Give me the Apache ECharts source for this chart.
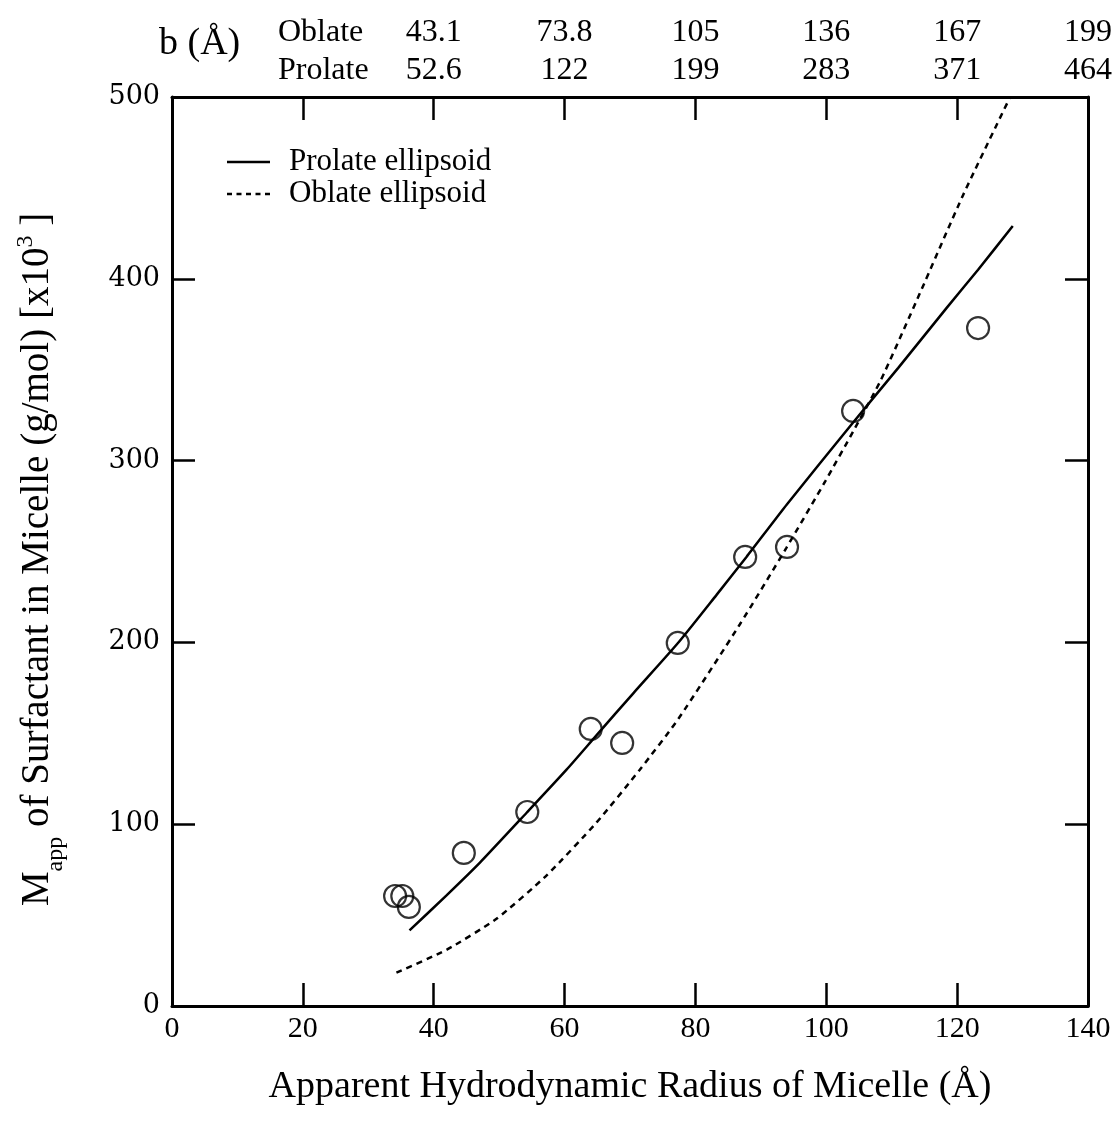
<!DOCTYPE html>
<html>
<head>
<meta charset="utf-8">
<script src="https://cdn.jsdelivr.net/npm/echarts@6/dist/echarts.min.js"></script>
<style>
html,body{margin:0;padding:0;background:#fff;}
#chart{width:1116px;height:1128px;}
</style>
</head>
<body>
<div id="chart"></div>
<script>
// Measured data points (apparent hydrodynamic radius Å, M_app x10^3 g/mol)
const pointsX = [34.1, 35.2, 36.2, 44.6, 54.3, 64.0, 68.8, 77.3, 87.6, 94.0, 104.1, 123.2];
const pointsY = [60.5, 60.5, 54.5, 84.2, 106.7, 152.4, 144.7, 199.7, 247.0, 252.5, 327.3, 372.9];

// Prolate ellipsoid model curve
const prolateX = [36.3, 42.0, 47.1, 54.2, 60.3, 64.9, 70.5, 77.3, 83.2, 87.8, 94.0, 104.1, 111.0, 118.4, 123.2, 128.5];
const prolateY = [41.6, 61.0, 79.0, 106.3, 130.0, 149.0, 172.0, 199.5, 226.0, 247.0, 276.0, 321.0, 351.0, 384.0, 405.0, 429.0];

// Oblate ellipsoid model curve
const oblateX = [34.3, 42.0, 49.6, 57.3, 64.9, 71.5, 77.4, 86.8, 93.9, 99.9, 104.1, 108.3, 114.3, 120.9, 128.1];
const oblateY = [18.3, 31.0, 48.0, 72.0, 101.0, 130.0, 158.0, 210.0, 252.0, 289.0, 316.0, 344.0, 392.0, 446.0, 500.0];

// Top axis labels: semi-axis b (Å)
const topTickX = [40, 60, 80, 100, 120, 140];
const oblateB = ['43.1', '73.8', '105', '136', '167', '199'];
const prolateB = ['52.6', '122', '199', '283', '371', '464'];

const xTitle = 'Apparent Hydrodynamic Radius of Micelle (Å)';
const serif = '"Liberation Serif", "Times New Roman", serif';

const zip = (xs, ys) => xs.map((x, i) => [x, ys[i]]);

const chart = echarts.init(document.getElementById('chart'), null, {renderer: 'canvas'});

const axisLine = {show: true, onZero: false, lineStyle: {color: '#000', width: 3}};
const axisTick = {show: true, inside: true, length: 23, lineStyle: {color: '#000', width: 2.5}};

const solidIcon = 'path://M0,0H44V2.5H0Z';
const dashIcon = 'path://M0,0H5V2.5H0Z M9.5,0H14.5V2.5H9.5Z M19,0H24V2.5H19Z M28.5,0H33.5V2.5H28.5Z M38,0H43V2.5H38Z';

chart.setOption({
  backgroundColor: '#fff',
  animation: false,
  grid: {left: 172, top: 97, width: 916, height: 909},
  legend: {
    data: [
      {name: 'Prolate ellipsoid', icon: solidIcon},
      {name: 'Oblate ellipsoid', icon: dashIcon}
    ],
    orient: 'vertical',
    left: 222, top: 141,
    itemWidth: 43, itemHeight: 2.5, itemGap: 0,
    itemStyle: {color: '#000', borderWidth: 0},
    textStyle: {fontFamily: serif, fontSize: 31, color: '#000', lineHeight: 32, padding: [0, 0, 0, 14]}
  },
  xAxis: [{
    type: 'value', min: 0, max: 140, interval: 20, position: 'bottom',
    axisLine, axisTick, splitLine: {show: false},
    axisLabel: {fontFamily: serif, fontSize: 30, color: '#000', margin: 8, showMinLabel: true, showMaxLabel: true},
    name: xTitle, nameLocation: 'middle', nameGap: 62,
    nameTextStyle: {fontFamily: serif, fontSize: 38, color: '#000'}
  }, {
    type: 'value', min: 0, max: 140, interval: 20, position: 'top',
    axisLine, axisTick, splitLine: {show: false},
    axisLabel: {
      fontFamily: serif, fontSize: 32, color: '#000', margin: 7, lineHeight: 38,
      showMinLabel: true, showMaxLabel: true,
      formatter: v => {
        const i = topTickX.indexOf(v);
        return i < 0 ? '' : oblateB[i] + '\n' + prolateB[i];
      }
    }
  }],
  yAxis: [{
    type: 'value', min: 0, max: 500, interval: 100, position: 'left',
    axisLine, axisTick, splitLine: {show: false},
    axisLabel: {fontFamily: '"DejaVu Serif", serif', fontSize: 27, color: '#000', margin: 12},
    name: 'M{sub|app} of Surfactant in Micelle (g/mol) [x10{sup|3} ]',
    nameLocation: 'middle', nameGap: 110, nameRotate: 90,
    nameTextStyle: {
      fontFamily: serif, fontSize: 39, color: '#000', lineHeight: 48, padding: [0, 16, 0, 0],
      rich: {
        sub: {fontFamily: serif, fontSize: 24, color: '#000', verticalAlign: 'bottom', lineHeight: 48, padding: [0, 0, -6, 0]},
        sup: {fontFamily: serif, fontSize: 24, color: '#000', verticalAlign: 'top', lineHeight: 48}
      }
    }
  }, {
    type: 'value', min: 0, max: 500, interval: 100, position: 'right',
    axisLine, axisTick, splitLine: {show: false},
    axisLabel: {show: false}
  }],
  graphic: [
    {type: 'text', left: 159, top: 25, style: {text: 'b (Å)', font: '38px ' + serif, fill: '#000'}},
    {type: 'text', left: 278, top: 17, style: {text: 'Oblate', font: '32px ' + serif, fill: '#000'}},
    {type: 'text', left: 278, top: 55, style: {text: 'Prolate', font: '32px ' + serif, fill: '#000'}}
  ],
  series: [{
    name: 'Prolate ellipsoid', type: 'line', xAxisIndex: 0, yAxisIndex: 0,
    data: zip(prolateX, prolateY), smooth: 0.2, symbol: 'none',
    lineStyle: {color: '#000', width: 2.5, type: 'solid'}, itemStyle: {color: '#000'}
  }, {
    name: 'Oblate ellipsoid', type: 'line', xAxisIndex: 0, yAxisIndex: 0,
    data: zip(oblateX, oblateY), smooth: 0.2, symbol: 'none',
    lineStyle: {color: '#000', width: 2.5, type: [6, 5]}, itemStyle: {color: '#000'}
  }, {
    name: 'Data', type: 'scatter', xAxisIndex: 0, yAxisIndex: 0,
    data: zip(pointsX, pointsY), symbol: 'circle', symbolSize: 22,
    itemStyle: {color: 'rgba(0,0,0,0)', borderColor: '#000', borderWidth: 2.2}
  }]
});
</script>
</body>
</html>
